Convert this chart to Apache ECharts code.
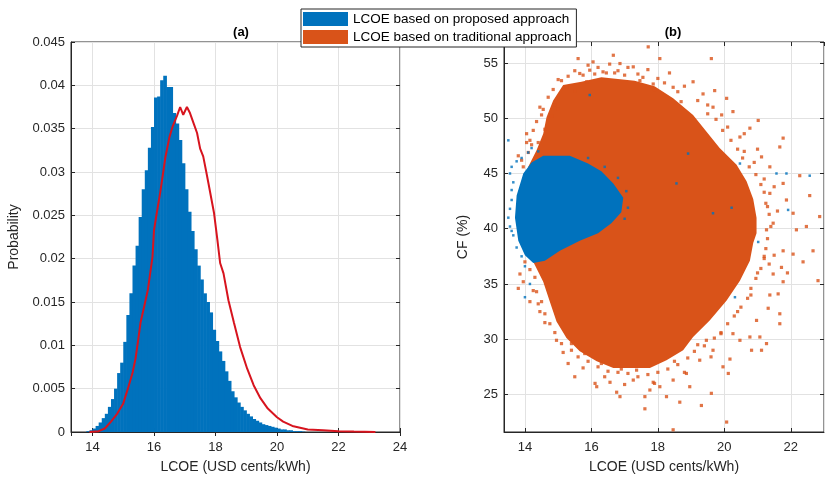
<!DOCTYPE html>
<html><head><meta charset="utf-8">
<script src="https://cdn.jsdelivr.net/npm/echarts@6/dist/echarts.min.js"></script>
<style>html,body{margin:0;padding:0;background:#fff}#c{width:825px;height:481px}</style>
</head><body><div id="c"></div>
<script>
// ---------- data ----------
const BLUE = '#0072BD', ORANGE = '#D95319', RED = '#D7141E', AX = '#262626';
const legendNames = ['LCOE based on proposed approach', 'LCOE based on traditional approach'];
const xTitle = 'LCOE (USD cents/kWh)';
const binWidth = 0.1;
const histCenters = [13.85,13.95,14.05,14.15,14.25,14.35,14.45,14.55,14.65,14.75,14.85,14.95,
  15.05,15.15,15.25,15.35,15.45,15.55,15.65,15.75,15.85,15.95,16.05,16.15,16.25,16.35,16.45,16.55,
  16.65,16.75,16.85,16.95,17.05,17.15,17.25,17.35,17.45,17.55,17.65,17.75,17.85,17.95,18.05,18.15,
  18.25,18.35,18.45,18.55,18.65,18.75,18.85,18.95,19.05,19.15,19.25,19.35,19.45,19.55,19.65,19.75,
  19.85,19.95,20.05,20.15,20.25,20.35,20.45,20.55,20.65,20.75,20.85];
const histProb = [0.0001,0.0002,0.0004,0.0007,0.0011,0.0016,0.0021,0.0029,0.0038,0.0050,0.0068,0.0080,
  0.0104,0.0135,0.0160,0.0192,0.0215,0.0248,0.0280,0.0302,0.0328,0.0352,0.0386,0.0387,0.0406,0.0411,0.0398,0.0398,
  0.0368,0.0356,0.0337,0.0310,0.0280,0.0254,0.0232,0.0211,0.0192,0.0176,0.0160,0.0150,0.0138,0.0118,0.0105,0.0093,
  0.0082,0.0070,0.0059,0.0047,0.0040,0.0034,0.0029,0.0025,0.0021,0.0018,0.0015,0.0013,0.0011,0.0009,0.0008,0.0007,
  0.0006,0.0005,0.0004,0.0003,0.0003,0.0002,0.0002,0.0001,0.0001,0.0001,0.00005];
const tradLcoe = [13.9,14.2,14.4,14.6,14.8,15.0,15.15,15.3,15.4,15.5,15.56,15.7,15.8,15.95,16.0,16.1,16.2,16.3,16.37,
  16.5,16.6,16.75,16.85,16.95,17.07,17.17,17.3,17.4,17.5,17.6,17.7,17.77,17.95,18.06,18.15,18.26,18.42,18.6,18.8,
  19.03,19.24,19.46,19.7,20.0,20.2,20.5,21.0,21.5,22.0,22.5,23.2];
const tradProb = [0,0.0001,0.0004,0.0012,0.0021,0.0033,0.0050,0.0068,0.0085,0.0110,0.0126,0.0148,0.0164,0.0202,0.0233,
  0.0255,0.0276,0.0300,0.0317,0.0340,0.0352,0.0365,0.0375,0.0366,0.0375,0.0368,0.0355,0.0345,0.0327,0.0318,0.0300,
  0.0287,0.0253,0.0222,0.0195,0.0183,0.0152,0.0126,0.0098,0.0073,0.0054,0.0039,0.0027,0.0017,0.0012,0.0007,0.0003,
  0.0002,0.0001,0.00005,0];
// dense cloud outlines [LCOE, CF]
const orangeBody = [[15.15,53.0],[15.7,53.3],[16.3,53.7],[17.3,53.4],[17.9,52.9],[18.46,51.8],[19.06,50.3],
  [19.46,48.8],[19.86,47.3],[20.37,45.8],[20.67,44.3],[20.87,42.7],[20.97,41.0],[20.97,39.6],[20.87,38.7],
  [20.77,37.1],[20.47,35.3],[20.07,33.5],[19.56,31.7],[19.06,30.2],[18.76,29.0],[18.26,28.1],[17.76,27.4],
  [16.66,27.4],[16.16,28.0],[15.65,28.9],[15.25,30.1],[14.95,31.6],[14.75,33.4],[14.55,35.2],[14.25,37.0],
  [14.05,38.9],[14.0,41.0],[14.1,45.6],[14.35,47.1],[14.55,48.6],[14.65,50.1],[14.85,51.6]];
const blueBody = [[14.55,46.6],[15.35,46.6],[15.9,45.9],[16.3,45.2],[16.66,44.1],[16.96,42.8],[16.9,41.5],
  [16.6,40.5],[16.2,39.6],[15.65,38.9],[15.05,38.0],[14.6,37.1],[14.25,36.9],[14.0,37.6],[13.8,38.9],
  [13.7,41.0],[13.75,43.0],[13.95,45.0],[14.2,46.0]];
const orangeOut = [[17.71,56.46],[15.60,55.4],[16.05,55.1],[16.66,55.7],[18.06,55.4],[19.61,55.4],[16.86,54.95],
  [17.26,54.65],[15.65,54.05],[15.95,54.35],[15.10,53.4],[15.25,52.8],[15.86,53.3],[16.35,54.2],[17.46,53.4],
  [17.86,53.1],[18.46,52.8],[19.06,53.3],[19.36,52.2],[19.71,52.5],[20.07,51.8],[14.45,51.0],[14.50,50.3],
  [14.90,51.2],[14.05,48.6],[14.15,48.0],[13.80,46.6],[19.66,51.0],[19.92,50.3],[20.26,50.6],[21.02,49.8],
  [20.77,49.1],[20.47,48.3],[21.77,48.2],[21.67,47.4],[21.12,46.5],[21.37,45.6],[22.27,44.8],[22.57,43.0],
  [21.77,44.1],[21.87,42.6],[21.37,43.2],[22.07,41.4],[22.87,41.1],[22.47,40.2],[22.17,39.9],[21.47,40.5],
  [21.27,39.9],[22.67,38.0],[22.37,37.0],[22.07,37.7],[21.77,38.0],[21.72,36.5],[22.82,35.3],[21.77,35.2],
  [21.47,35.9],[21.62,34.1],[21.37,34.0],[21.32,32.8],[21.67,32.3],[21.67,31.4],[20.97,31.7],[21.07,30.2],
  [21.27,29.6],[20.77,30.2],[20.82,29.0],[21.12,29.0],[20.17,28.2],[19.96,27.5],[20.12,26.9],[19.61,25.1],
  [19.31,24.0],[20.07,22.5],[18.46,21.8],[18.66,24.3],[18.26,24.8],[18.06,25.7],[18.96,25.7],[17.61,23.7],
  [17.61,24.8],[17.76,25.4],[17.26,26.3],[16.86,24.8],[16.76,25.2],[16.16,25.7],[16.11,26.0],[16.56,26.1],
  [15.50,26.6],[15.30,27.8],[15.15,28.8],[14.95,29.9],[14.45,32.5],[14.15,33.4],[13.80,34.6],[14.25,34.4],
  [19.46,29.9],[20.26,30.5],[20.47,29.9],[19.66,29.0],[19.26,28.1],[18.86,26.9],[18.46,26.3],[17.86,26.1],
  [17.36,27.2],[14.8,50.2],[15.0,50.8],[14.6,49.0],[14.4,47.8],[20.6,47.0],[20.9,46.0],[21.2,44.5],
  [21.3,42.0],[21.2,37.5],[21.0,36.0],[20.8,34.0],[20.4,32.5],[19.9,30.5],[19.2,29.5],[18.5,28.0],
  [16.9,27.3],[16.3,27.8],[15.8,28.7],[15.4,29.6],[14.6,31.5],[14.4,33.2],[15.5,52.5],[16.7,54.1],
  [17.9,52.6],[18.7,51.5],[19.5,50.4],[20.1,49.2],
  [15.3,53.8],[15.5,54.3],[15.75,53.9],[15.9,54.8],[16.1,54.0],[16.2,54.6],[16.45,54.1],[16.55,54.9],
  [16.8,54.3],[17.0,53.9],[17.1,54.6],[17.4,54.0],[17.55,53.7],[17.7,54.4],[18.0,53.6],[18.2,53.2],
  [18.35,54.1],[18.6,52.4],[18.8,52.9],[15.0,53.5],[14.85,52.6],[14.7,51.9],[14.55,50.8],[14.35,49.7],
  [14.25,48.9],[14.2,47.6],[14.1,46.9],
  [19.2,51.6],[19.5,51.2],[19.75,49.9],[19.95,48.9],[20.2,48.0],[20.4,47.2],[20.55,46.4],[20.75,45.6],
  [20.95,44.9],[21.1,44.0],[21.2,43.3],[21.25,42.3],[21.35,41.3],[21.4,40.2],[21.6,41.6],[21.5,43.8],
  [21.0,47.2],[20.6,48.6],
  [21.3,39.1],[21.25,38.2],[21.2,37.3],[21.1,36.4],[21.35,36.8],[20.95,35.5],[20.8,34.6],[20.7,33.7],
  [20.5,32.9],[20.3,32.1],[20.1,31.4],[19.9,30.6],[19.7,30.1],[19.4,29.4],[19.1,28.9],[18.9,28.3],
  [18.6,27.7],[21.5,37.6],[21.9,36.0],
  [18.3,27.3],[18.0,27.0],[17.7,26.8],[17.4,26.6],[17.1,26.9],[16.8,27.0],[16.5,27.1],[16.2,27.5],
  [15.9,28.0],[15.6,28.4],[15.4,29.0],[15.1,29.6],[14.9,30.6],[14.75,31.4],[14.6,32.3],[14.5,33.4],
  [14.35,34.3],[14.3,35.6],[14.15,36.3],[14.0,37.0],[17.9,26.0],[17.0,25.9],[16.4,26.6],[18.8,27.0],
  [19.6,28.4],[15.75,27.4],
  [13.9,46.2],[13.95,45.6],[14.05,47.8],[13.85,35.9],[13.95,35.2]];
const blueOut = [[13.5,48.0],[13.55,45.0],[13.65,44.2],[13.55,41.8],[21.57,45.0],[21.87,45.0],[22.57,44.8],
  [21.92,41.7],[15.95,52.1],[20.47,45.9],[14.0,33.8],[14.15,35.0],[13.75,38.3],[21.02,38.8],[18.56,44.1],
  [18.91,46.8],[19.66,41.4],[20.22,41.9],[20.32,33.8],[13.6,42.6],[13.55,40.2],[13.6,43.5],[13.9,46.4],
  [14.1,46.9],[13.9,37.5],[14.0,36.6],[13.65,39.4],[14.2,47.3],[13.6,45.6],[13.75,46.1],[13.5,41.0],
  [13.6,39.8],[14.4,47.0],[15.9,46.4],[16.4,45.6],[16.8,44.6],[17.05,43.4],[17.1,41.9],[17.0,40.9]];

// ---------- chart ----------
const chart = echarts.init(document.getElementById('c'), null, {renderer: 'canvas'});
const font = 'Liberation Sans, Arial, Helvetica, sans-serif';
const axisCommon = {
  axisLine: {show: true, lineStyle: {color: AX, width: 1}},
  axisTick: {show: true, inside: true, length: 4, lineStyle: {color: AX}},
  axisLabel: {color: AX, fontSize: 13, fontFamily: font},
  splitLine: {show: true, lineStyle: {color: '#e2e2e2', width: 1}},
  nameTextStyle: {color: AX, fontSize: 14, fontFamily: font},
  nameLocation: 'middle'
};
const ghost = (extra) => Object.assign({
  axisLine: {show: false}, axisTick: {show: true, inside: true, length: 4, lineStyle: {color: AX}},
  axisLabel: {show: false}, splitLine: {show: false}
}, extra);

const option = {
  backgroundColor: '#fff',
  animation: false,
  textStyle: {fontFamily: font},
  title: [
    {text: '(a)', left: 236, top: 21, textAlign: 'center', textStyle: {fontSize: 13, fontWeight: 'bold', color: '#000', fontFamily: font}},
    {text: '(b)', left: 668, top: 21, textAlign: 'center', textStyle: {fontSize: 13, fontWeight: 'bold', color: '#000', fontFamily: font}}
  ],
  legend: {
    orient: 'vertical', left: 301, top: 9, selectedMode: false,
    itemWidth: 45, itemHeight: 14, itemGap: 4, padding: [3, 5, 3, 2],
    borderColor: AX, borderWidth: 1, backgroundColor: '#fff',
    textStyle: {fontSize: 13.5, color: '#000', fontFamily: font},
    icon: 'rect', z: 20,
    data: [
      {name: legendNames[0], itemStyle: {color: BLUE}},
      {name: legendNames[1], itemStyle: {color: ORANGE}}
    ]
  },
  grid: [
    {left: 71, top: 42, width: 329, height: 390, show: true, borderColor: AX, borderWidth: 1, backgroundColor: 'transparent'},
    {left: 504, top: 42, width: 320, height: 390, show: true, borderColor: AX, borderWidth: 1, backgroundColor: 'transparent'}
  ],
  xAxis: [
    Object.assign({}, axisCommon, {gridIndex: 0, type: 'value', min: 13.3, max: 24, splitNumber: 5,
      name: xTitle, nameGap: 28,
      axisLabel: Object.assign({}, axisCommon.axisLabel, {margin: 9, showMinLabel: false, showMaxLabel: true})}),
    Object.assign({}, axisCommon, {gridIndex: 1, type: 'value', min: 13.37, max: 23, splitNumber: 5,
      name: xTitle, nameGap: 28,
      axisLabel: Object.assign({}, axisCommon.axisLabel, {margin: 9, showMinLabel: false, showMaxLabel: false})}),
    ghost({gridIndex: 0, type: 'value', position: 'top', min: 13.3, max: 24, splitNumber: 5}),
    ghost({gridIndex: 1, type: 'value', position: 'top', min: 13.37, max: 23, splitNumber: 5})
  ],
  yAxis: [
    Object.assign({}, axisCommon, {gridIndex: 0, type: 'value', min: 0, max: 0.045, interval: 0.005,
      name: 'Probability', nameGap: 50,
      axisLabel: Object.assign({}, axisCommon.axisLabel, {margin: 6})}),
    Object.assign({}, axisCommon, {gridIndex: 1, type: 'value', min: 21.6, max: 56.9, splitNumber: 7,
      name: 'CF (%)', nameGap: 34,
      axisLabel: Object.assign({}, axisCommon.axisLabel, {margin: 6, showMinLabel: false, showMaxLabel: false})}),
    ghost({gridIndex: 0, type: 'value', position: 'right', min: 0, max: 0.045, interval: 0.005}),
    ghost({gridIndex: 1, type: 'value', position: 'right', min: 21.6, max: 56.9, splitNumber: 7})
  ],
  series: [
    {
      name: legendNames[0], type: 'custom', xAxisIndex: 0, yAxisIndex: 0, z: 2,
      itemStyle: {color: BLUE},
      encode: {x: 0, y: 1},
      data: histCenters.map((c, i) => [c, histProb[i]]),
      renderItem: function (params, api) {
        const c = api.value(0), p = api.value(1);
        const a = api.coord([c - binWidth / 2, p]);
        const b = api.coord([c + binWidth / 2, 0]);
        return {type: 'rect', shape: {x: a[0], y: a[1], width: b[0] - a[0] + 0.6, height: b[1] - a[1]},
          style: {fill: BLUE}};
      }
    },
    {
      name: legendNames[1] + ' (a)', type: 'line', xAxisIndex: 0, yAxisIndex: 0, z: 3,
      data: tradLcoe.map((v, i) => [v, tradProb[i]]),
      showSymbol: false, symbol: 'none', smooth: false,
      lineStyle: {color: RED, width: 2}, itemStyle: {color: RED}
    },
    {
      name: legendNames[1], type: 'custom', xAxisIndex: 1, yAxisIndex: 1, z: 2,
      itemStyle: {color: ORANGE},
      encode: {x: 0, y: 1},
      data: [orangeBody[0]],
      renderItem: function (params, api) {
        if (params.dataIndex !== 0) return;
        return {type: 'polygon', shape: {points: orangeBody.map(p => api.coord(p))}, style: {fill: ORANGE}};
      }
    },
    {
      name: legendNames[1], type: 'scatter', xAxisIndex: 1, yAxisIndex: 1, z: 3,
      symbol: 'rect', symbolSize: 3.2, itemStyle: {color: ORANGE},
      data: orangeOut
    },
    {
      name: legendNames[0], type: 'custom', xAxisIndex: 1, yAxisIndex: 1, z: 4,
      itemStyle: {color: BLUE},
      encode: {x: 0, y: 1},
      data: [blueBody[0]],
      renderItem: function (params, api) {
        if (params.dataIndex !== 0) return;
        return {type: 'polygon', shape: {points: blueBody.map(p => api.coord(p))}, style: {fill: BLUE}};
      }
    },
    {
      name: legendNames[0], type: 'scatter', xAxisIndex: 1, yAxisIndex: 1, z: 5,
      symbol: 'rect', symbolSize: 2.5, itemStyle: {color: BLUE},
      data: blueOut
    }
  ]
};
chart.setOption(option);
</script>
</body></html>
